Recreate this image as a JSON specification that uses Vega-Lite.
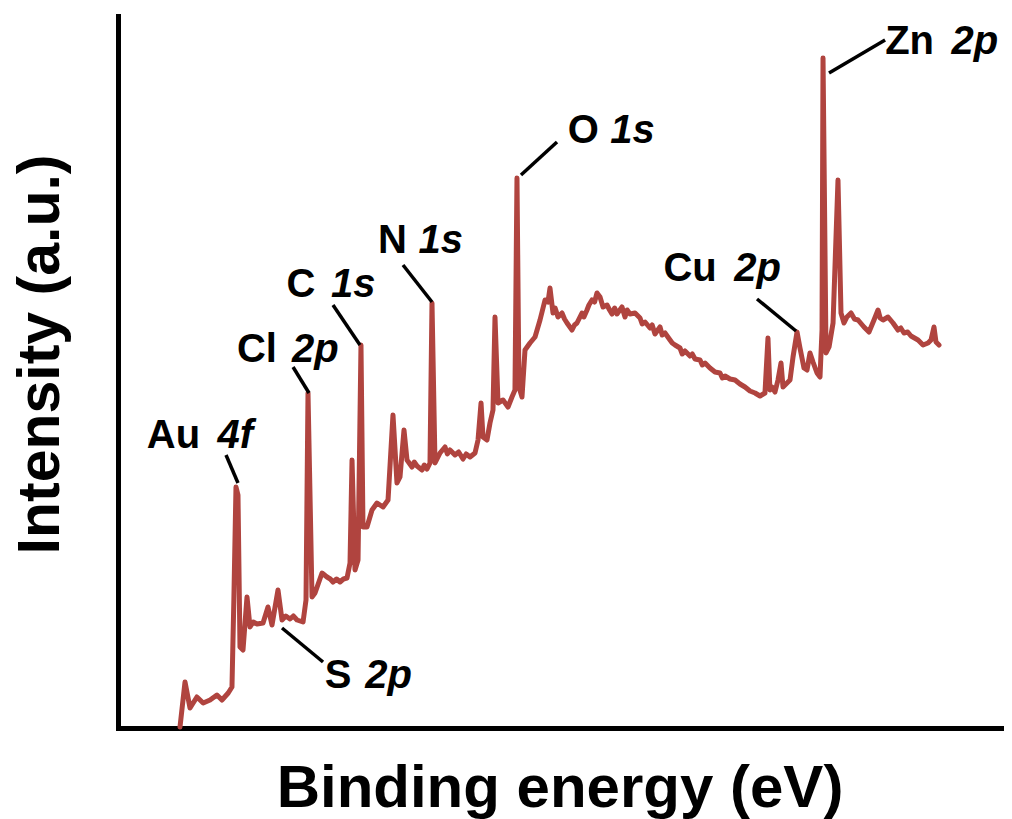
{
  "$schema": "https://vega.github.io/schema/vega-lite/v6.json",
  "width": 883,
  "height": 712,
  "autosize": {"type": "none"},
  "padding": {"left": 118, "top": 16, "right": 11, "bottom": 91},
  "config": {"view": {"stroke": null}, "font": "Liberation Sans"},
  "datasets": {
    "spectrum": [
      {"be": -7, "i": 1}, {"be": 1, "i": 46}, {"be": 9, "i": 20}, {"be": 20, "i": 31}, {"be": 30, "i": 25},
      {"be": 41, "i": 28}, {"be": 52, "i": 33}, {"be": 60, "i": 28}, {"be": 70, "i": 35}, {"be": 76, "i": 41},
      {"be": 79, "i": 128}, {"be": 82.4, "i": 241}, {"be": 85.6, "i": 233}, {"be": 88.8, "i": 81}, {"be": 93.6, "i": 78},
      {"be": 100, "i": 131}, {"be": 104.8, "i": 101}, {"be": 110, "i": 106}, {"be": 116, "i": 104}, {"be": 125.6, "i": 105}, {"be": 133.5, "i": 121},
      {"be": 139.9, "i": 103}, {"be": 149.5, "i": 138}, {"be": 155.9, "i": 108}, {"be": 162, "i": 112}, {"be": 168.7, "i": 109}, {"be": 174, "i": 112}, {"be": 179.9, "i": 108},
      {"be": 189.5, "i": 106}, {"be": 194.2, "i": 128}, {"be": 197.4, "i": 335}, {"be": 203.8, "i": 131}, {"be": 208.6, "i": 135},
      {"be": 219.8, "i": 155}, {"be": 227.7, "i": 151}, {"be": 233, "i": 149}, {"be": 237.3, "i": 146}, {"be": 243, "i": 149}, {"be": 248.5, "i": 146}, {"be": 254, "i": 149}, {"be": 259.7, "i": 150},
      {"be": 264.5, "i": 165}, {"be": 267.7, "i": 268}, {"be": 272.5, "i": 158}, {"be": 277.3, "i": 168}, {"be": 282, "i": 383},
      {"be": 285.2, "i": 201}, {"be": 291.6, "i": 201}, {"be": 299.6, "i": 218}, {"be": 307.6, "i": 225}, {"be": 317.2, "i": 221},
      {"be": 325.2, "i": 228}, {"be": 333.1, "i": 313}, {"be": 339.5, "i": 245}, {"be": 344.3, "i": 251}, {"be": 350.7, "i": 298},
      {"be": 355.5, "i": 268}, {"be": 363.5, "i": 261}, {"be": 367, "i": 266}, {"be": 371.5, "i": 262}, {"be": 379.5, "i": 258}, {"be": 383, "i": 263}, {"be": 387.5, "i": 259},
      {"be": 392.2, "i": 265}, {"be": 395.4, "i": 425}, {"be": 400.2, "i": 265}, {"be": 408.2, "i": 275}, {"be": 416.2, "i": 281},
      {"be": 420, "i": 274}, {"be": 424.2, "i": 278}, {"be": 432.1, "i": 273}, {"be": 438, "i": 276}, {"be": 444.9, "i": 269}, {"be": 450, "i": 274}, {"be": 456.1, "i": 271}, {"be": 464.1, "i": 275},
      {"be": 468.9, "i": 288}, {"be": 473.7, "i": 325}, {"be": 476.8, "i": 291}, {"be": 483.2, "i": 288}, {"be": 488, "i": 305},
      {"be": 492.8, "i": 318}, {"be": 496, "i": 411}, {"be": 500.8, "i": 325}, {"be": 508.8, "i": 328}, {"be": 516.8, "i": 321},
      {"be": 523.1, "i": 331}, {"be": 527.9, "i": 338}, {"be": 531.1, "i": 550}, {"be": 534.3, "i": 341}, {"be": 539.1, "i": 331},
      {"be": 543.9, "i": 378}, {"be": 551.9, "i": 385}, {"be": 559.9, "i": 391}, {"be": 567.9, "i": 408}, {"be": 575.9, "i": 428},
      {"be": 580.6, "i": 426}, {"be": 583.8, "i": 440}, {"be": 588.6, "i": 415}, {"be": 592, "i": 420}, {"be": 596.6, "i": 411}, {"be": 603, "i": 415},
      {"be": 607, "i": 409}, {"be": 611, "i": 405}, {"be": 619, "i": 398}, {"be": 623, "i": 403}, {"be": 626.9, "i": 405}, {"be": 634.9, "i": 415}, {"be": 638, "i": 411}, {"be": 642.9, "i": 418},
      {"be": 646, "i": 423}, {"be": 650.9, "i": 428}, {"be": 655, "i": 426}, {"be": 658.9, "i": 435}, {"be": 663.7, "i": 431}, {"be": 668.5, "i": 421}, {"be": 674.9, "i": 423},
      {"be": 679, "i": 418}, {"be": 682.8, "i": 414}, {"be": 687, "i": 420}, {"be": 690.8, "i": 414}, {"be": 698.8, "i": 421}, {"be": 703.6, "i": 411}, {"be": 707, "i": 418}, {"be": 711.6, "i": 414},
      {"be": 719.6, "i": 415}, {"be": 727.6, "i": 410}, {"be": 731, "i": 404}, {"be": 735.6, "i": 406}, {"be": 743.5, "i": 400}, {"be": 747, "i": 403}, {"be": 751.5, "i": 394},
      {"be": 759.5, "i": 401}, {"be": 763, "i": 393}, {"be": 767.5, "i": 395}, {"be": 775.5, "i": 388}, {"be": 779, "i": 385}, {"be": 783.5, "i": 383}, {"be": 791.4, "i": 380},
      {"be": 795, "i": 374}, {"be": 799.4, "i": 377}, {"be": 807.4, "i": 372}, {"be": 811, "i": 374}, {"be": 815.4, "i": 369}, {"be": 823.4, "i": 368}, {"be": 827, "i": 363}, {"be": 831.4, "i": 365},
      {"be": 839.3, "i": 360}, {"be": 847.3, "i": 356}, {"be": 855.3, "i": 355}, {"be": 859, "i": 350}, {"be": 863.3, "i": 352}, {"be": 871.3, "i": 349},
      {"be": 879.3, "i": 348}, {"be": 887.2, "i": 344}, {"be": 895.2, "i": 341}, {"be": 903.2, "i": 337}, {"be": 911.2, "i": 335},
      {"be": 919.2, "i": 332}, {"be": 927.1, "i": 335}, {"be": 931.9, "i": 390}, {"be": 935, "i": 338}, {"be": 938.3, "i": 341}, {"be": 943.1, "i": 336},
      {"be": 947.9, "i": 348}, {"be": 952.7, "i": 365}, {"be": 955.9, "i": 341}, {"be": 962.3, "i": 345}, {"be": 967.1, "i": 348},
      {"be": 971.9, "i": 371}, {"be": 978.3, "i": 396}, {"be": 983, "i": 380}, {"be": 989.4, "i": 360}, {"be": 994.2, "i": 358},
      {"be": 999, "i": 375}, {"be": 1003.8, "i": 366}, {"be": 1010.2, "i": 355}, {"be": 1015, "i": 351}, {"be": 1018.2, "i": 398},
      {"be": 1019.8, "i": 670}, {"be": 1024.6, "i": 375}, {"be": 1029.4, "i": 381}, {"be": 1035.8, "i": 405}, {"be": 1043.7, "i": 548},
      {"be": 1048.5, "i": 415}, {"be": 1053.3, "i": 405}, {"be": 1058, "i": 411}, {"be": 1064.5, "i": 415}, {"be": 1070, "i": 409}, {"be": 1075.7, "i": 408}, {"be": 1085.2, "i": 401},
      {"be": 1093.2, "i": 396}, {"be": 1101.2, "i": 408}, {"be": 1107.6, "i": 418}, {"be": 1111, "i": 410}, {"be": 1115.6, "i": 408}, {"be": 1123.6, "i": 411},
      {"be": 1131.6, "i": 405}, {"be": 1139.5, "i": 398}, {"be": 1144, "i": 400}, {"be": 1149.1, "i": 395}, {"be": 1155, "i": 396}, {"be": 1160.3, "i": 392}, {"be": 1171.5, "i": 388},
      {"be": 1179.5, "i": 383}, {"be": 1187.5, "i": 385}, {"be": 1192.2, "i": 388}, {"be": 1197, "i": 401}, {"be": 1200.2, "i": 386},
      {"be": 1205, "i": 383}
    ],
    "labels": [
      {"el": "Au", "orb": "4f", "ex": -60, "ox": 53, "y": 280},
      {"el": "Cl", "orb": "2p", "ex": 84, "ox": 172, "y": 366},
      {"el": "C", "orb": "1s", "ex": 163, "ox": 234, "y": 431},
      {"el": "N", "orb": "1s", "ex": 309, "ox": 374, "y": 475},
      {"el": "O", "orb": "1s", "ex": 612, "ox": 680, "y": 585},
      {"el": "Cu", "orb": "2p", "ex": 765, "ox": 878, "y": 447},
      {"el": "Zn", "orb": "2p", "ex": 1119, "ox": 1225, "y": 674},
      {"el": "S", "orb": "2p", "ex": 224, "ox": 289, "y": 40}
    ],
    "leaders": [
      {"x1": 66.5, "y1": 273, "x2": 85.6, "y2": 245},
      {"x1": 155.9, "y1": 100, "x2": 221.4, "y2": 66},
      {"x1": 173.5, "y1": 361, "x2": 199, "y2": 335},
      {"x1": 237.3, "y1": 423, "x2": 280.4, "y2": 383},
      {"x1": 349.1, "y1": 463, "x2": 395.4, "y2": 426},
      {"x1": 537.5, "y1": 553, "x2": 595, "y2": 586},
      {"x1": 914.4, "y1": 429, "x2": 976.7, "y2": 397},
      {"x1": 1029.4, "y1": 655, "x2": 1118.9, "y2": 688}
    ]
  },
  "layer": [
    {
      "data": {"name": "spectrum"},
      "mark": {"type": "line", "color": "#b0443f", "strokeWidth": 5, "strokeJoin": "round", "strokeCap": "round"},
      "encoding": {
        "x": {
          "field": "be", "type": "quantitative",
          "scale": {"domain": [-106, 1304], "nice": false, "zero": false},
          "axis": {
            "title": "Binding energy (eV)", "ticks": false, "labels": false, "grid": false,
            "domainColor": "black", "domainWidth": 5, "domainCap": "square",
            "titleFont": "Liberation Sans", "titleFontSize": 60, "titleFontWeight": "bold", "titleColor": "black",
            "titleBaseline": "alphabetic", "titleY": 78, "titlePadding": 0
          }
        },
        "y": {
          "field": "i", "type": "quantitative",
          "scale": {"domain": [0, 712], "nice": false, "zero": false},
          "axis": {
            "title": "Intensity (a.u.)", "ticks": false, "labels": false, "grid": false,
            "domainColor": "black", "domainWidth": 5, "domainCap": "square",
            "titleFont": "Liberation Sans", "titleFontSize": 59, "titleFontWeight": "bold", "titleColor": "black",
            "titleAngle": -90, "titleBaseline": "alphabetic", "titleAlign": "center", "titleX": -60, "titleY": 338
          }
        }
      }
    },
    {
      "data": {"name": "leaders"},
      "mark": {"type": "rule", "color": "black", "strokeWidth": 3.5},
      "encoding": {
        "x": {"field": "x1", "type": "quantitative"},
        "y": {"field": "y1", "type": "quantitative"},
        "x2": {"field": "x2"},
        "y2": {"field": "y2"}
      }
    },
    {
      "data": {"name": "labels"},
      "mark": {"type": "text", "align": "left", "baseline": "alphabetic", "font": "Liberation Sans", "fontSize": 40, "fontWeight": "bold", "color": "black"},
      "encoding": {
        "x": {"field": "ex", "type": "quantitative"},
        "y": {"field": "y", "type": "quantitative"},
        "text": {"field": "el"}
      }
    },
    {
      "data": {"name": "labels"},
      "mark": {"type": "text", "align": "left", "baseline": "alphabetic", "font": "Liberation Sans", "fontSize": 40, "fontWeight": "bold", "fontStyle": "italic", "color": "black"},
      "encoding": {
        "x": {"field": "ox", "type": "quantitative"},
        "y": {"field": "y", "type": "quantitative"},
        "text": {"field": "orb"}
      }
    }
  ]
}
